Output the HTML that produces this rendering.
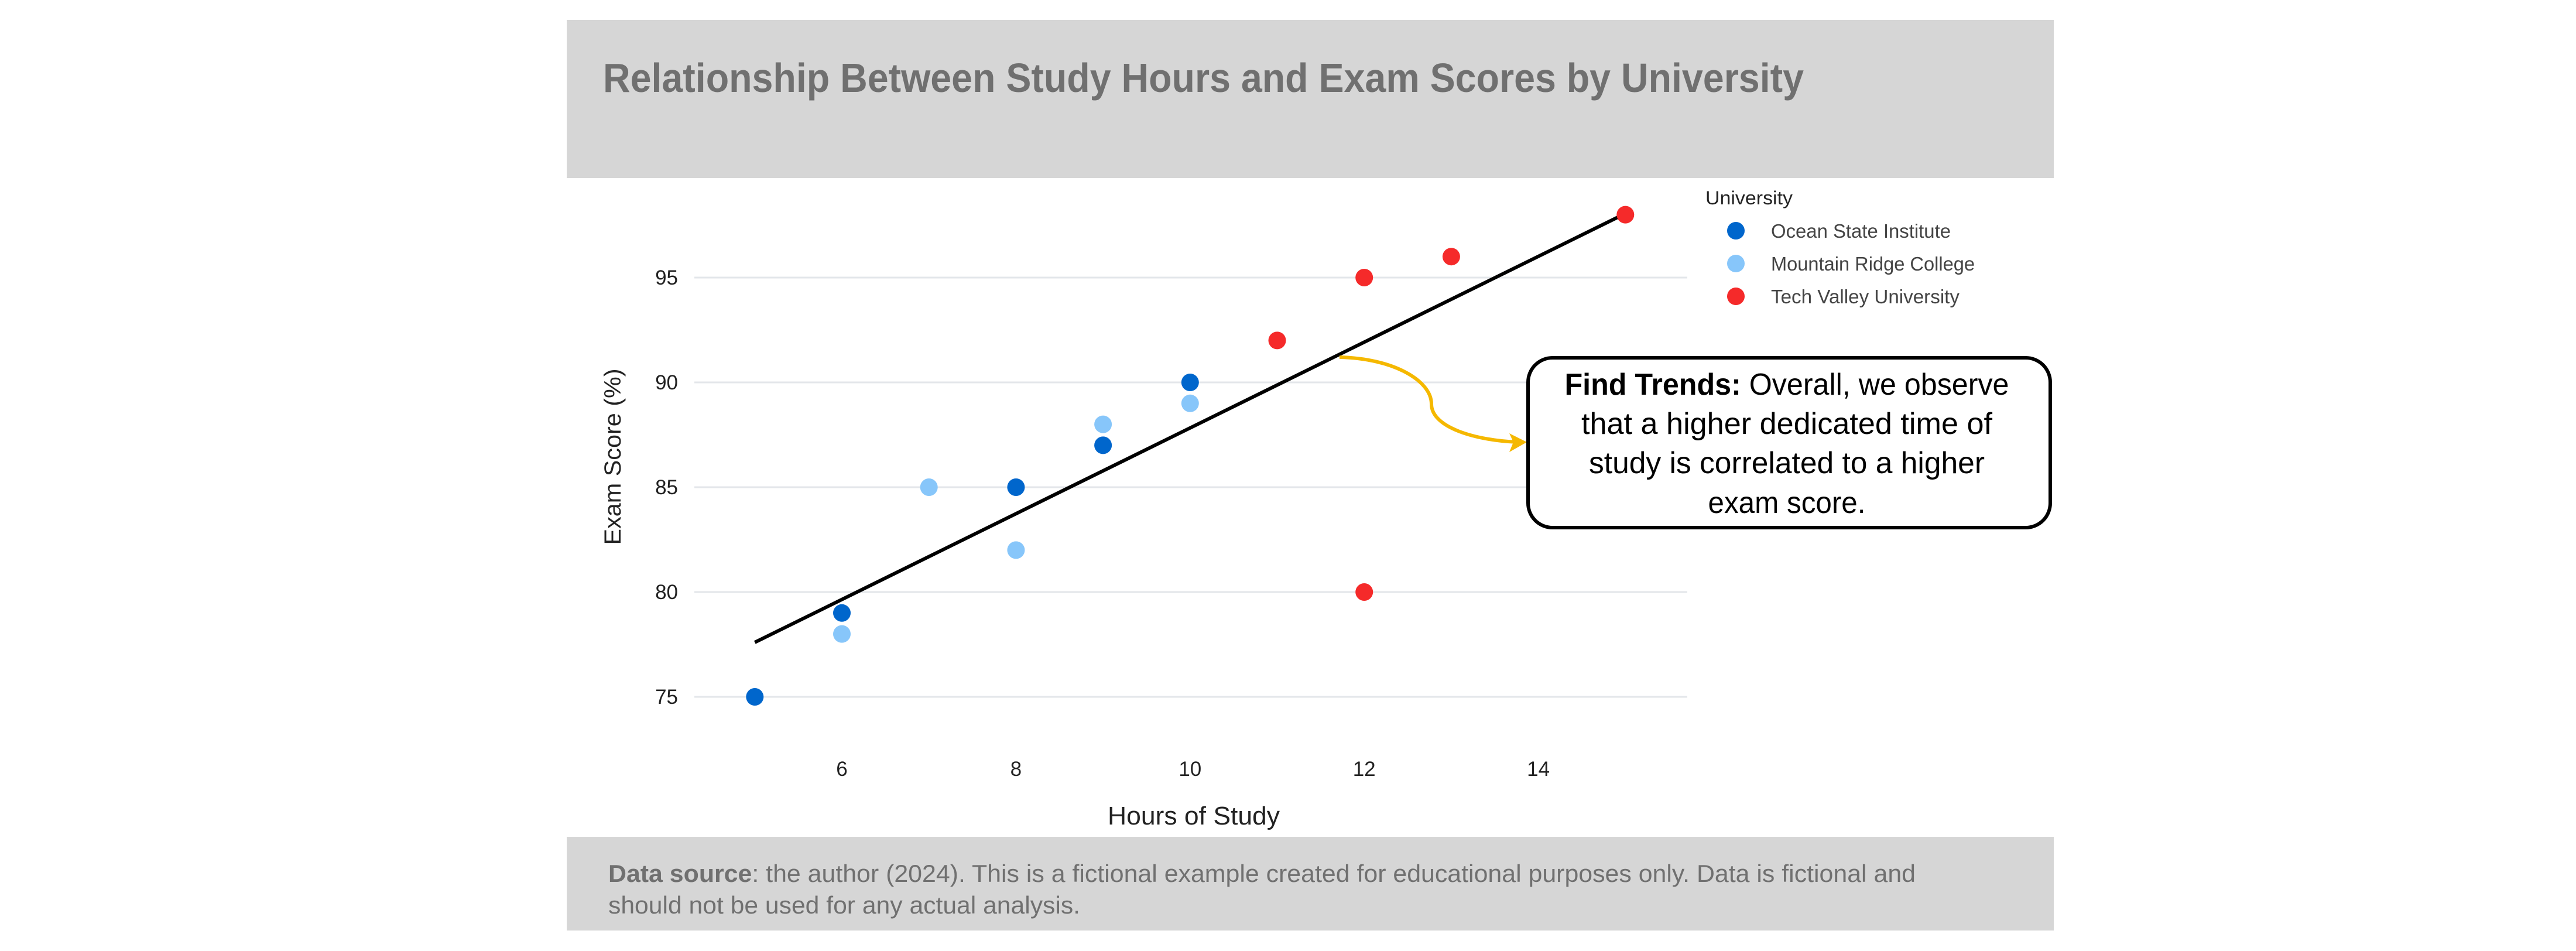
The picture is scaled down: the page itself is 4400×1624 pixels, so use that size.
<!DOCTYPE html>
<html><head><meta charset="utf-8"><style>
html,body{margin:0;padding:0;background:#fff;}
svg{display:block;font-family:"Liberation Sans",sans-serif;}
</style></head><body>
<svg id="chart" width="4400" height="1624" viewBox="0 0 4400 1624" xmlns="http://www.w3.org/2000/svg">
<rect x="968" y="34" width="2540" height="270" fill="#d6d6d6"/>
<text x="1030" y="157" font-size="70" font-weight="bold" fill="#707070" textLength="2051" lengthAdjust="spacingAndGlyphs">Relationship Between Study Hours and Exam Scores by University</text>
<rect x="968" y="1429" width="2540" height="160" fill="#d6d6d6"/>
<text x="1039" y="1506" font-size="42" fill="#707070" textLength="2233" lengthAdjust="spacingAndGlyphs"><tspan font-weight="bold">Data source</tspan>: the author (2024). This is a fictional example created for educational purposes only. Data is fictional and</text>
<text x="1039" y="1560" font-size="42" fill="#707070" textLength="806" lengthAdjust="spacingAndGlyphs">should not be used for any actual analysis.</text>
<g id="grid"></g>
<g id="yticks"></g>
<g id="xticks"></g>
<text transform="translate(1060,780) rotate(-90)" text-anchor="middle" font-size="40" fill="#222" textLength="301" lengthAdjust="spacingAndGlyphs">Exam Score (%)</text>
<text x="2039" y="1408" text-anchor="middle" font-size="44" fill="#222" textLength="294" lengthAdjust="spacingAndGlyphs">Hours of Study</text>
<g id="trend"></g>
<g id="points"></g>
<g>
<text x="2913" y="349" font-size="32" fill="#222" textLength="149" lengthAdjust="spacingAndGlyphs">University</text>
<circle cx="2965" cy="394" r="15" fill="#0066CC"/>
<text x="3025" y="406" font-size="33" fill="#444" textLength="307" lengthAdjust="spacingAndGlyphs">Ocean State Institute</text>
<circle cx="2965" cy="450" r="15" fill="#87C6FA"/>
<text x="3025" y="462" font-size="33" fill="#444" textLength="348" lengthAdjust="spacingAndGlyphs">Mountain Ridge College</text>
<circle cx="2965" cy="506" r="15" fill="#F52A2A"/>
<text x="3025" y="518" font-size="33" fill="#444" textLength="322" lengthAdjust="spacingAndGlyphs">Tech Valley University</text>
</g>
<g>
<path d="M2288 610 C2380 612 2445 650 2445 690 C2445 730 2520 752 2592 755" fill="none" stroke="#F5B800" stroke-width="6"/>
<polygon points="2608,755 2578,740 2585,755 2578,772" fill="#F5B800"/>
<rect x="2610" y="611" width="892" height="290" rx="42" fill="#fff" stroke="#000" stroke-width="6"/>
<text x="3052" y="674" text-anchor="middle" font-size="52" fill="#000" textLength="759" lengthAdjust="spacingAndGlyphs"><tspan font-weight="bold">Find Trends:</tspan> Overall, we observe</text>
<text x="3052" y="741" text-anchor="middle" font-size="52" fill="#000" textLength="702" lengthAdjust="spacingAndGlyphs">that a higher dedicated time of</text>
<text x="3052" y="808" text-anchor="middle" font-size="52" fill="#000" textLength="676" lengthAdjust="spacingAndGlyphs">study is correlated to a higher</text>
<text x="3052" y="876" text-anchor="middle" font-size="52" fill="#000" textLength="269" lengthAdjust="spacingAndGlyphs">exam score.</text>
</g>
</svg>
<script>
const oceanHours = [5, 6, 8, 9, 10];
const oceanScores = [75, 79, 85, 87, 90];
const mountainHours = [6, 7, 8, 9, 10];
const mountainScores = [78, 85, 82, 88, 89];
const techHours = [11, 12, 13, 15, 12];
const techScores = [92, 95, 96, 98, 80];
const yTickValues = [75, 80, 85, 90, 95];
const xTickValues = [6, 8, 10, 12, 14];

const NS = 'http://www.w3.org/2000/svg';
function xScale(h){ return 1438 + (h - 6) * 148.7; }
function yScale(v){ return 1190 - (v - 75) * 35.8; }
function mk(tag, attrs){ const e = document.createElementNS(NS, tag); for (const k in attrs) e.setAttribute(k, attrs[k]); return e; }

const grid = document.getElementById('grid');
const yt = document.getElementById('yticks');
yTickValues.forEach(v => {
  const l = mk('line', {x1:1186, x2:2882, y1:yScale(v), y2:yScale(v), stroke:'#e3e6ea', 'stroke-width':3});
  
  
  grid.appendChild(l);
  const t = mk('text', {x:1158, y:yScale(v) + 12, 'text-anchor':'end', 'font-size':35, fill:'#222'});
  t.textContent = v;
  
  
  yt.appendChild(t);
});
const xt = document.getElementById('xticks');
xTickValues.forEach(v => {
  const t = mk('text', {x:xScale(v), y:1325, 'text-anchor':'middle', 'font-size':35, fill:'#222'});
  t.textContent = v;
  
  
  xt.appendChild(t);
});

const allX = oceanHours.concat(mountainHours, techHours);
const allY = oceanScores.concat(mountainScores, techScores);
const n = allX.length;
const mx = allX.reduce((a,b)=>a+b,0)/n, my = allY.reduce((a,b)=>a+b,0)/n;
let sxy = 0, sxx = 0;
for (let i = 0; i < n; i++){ sxy += (allX[i]-mx)*(allY[i]-my); sxx += (allX[i]-mx)*(allX[i]-mx); }
const slope = sxy/sxx, icpt = my - slope*mx;
const xmin = Math.min(...allX), xmax = Math.max(...allX);
const tl = mk('line', {x1:xScale(xmin), y1:yScale(icpt+slope*xmin), x2:xScale(xmax), y2:yScale(icpt+slope*xmax), stroke:'#000', 'stroke-width':6});


document.getElementById('trend').appendChild(tl);

const pts = document.getElementById('points');
function drawSeries(hs, ss, color, name){
  hs.forEach((h, i) => {
    const c = mk('circle', {cx:xScale(h), cy:yScale(ss[i]), r:15, fill:color});
    
    
    pts.appendChild(c);
  });
}
drawSeries(mountainHours, mountainScores, '#87C6FA', 'mountain-ridge');
drawSeries(oceanHours, oceanScores, '#0066CC', 'ocean-state');
drawSeries(techHours, techScores, '#F52A2A', 'tech-valley');
</script>
</body></html>
